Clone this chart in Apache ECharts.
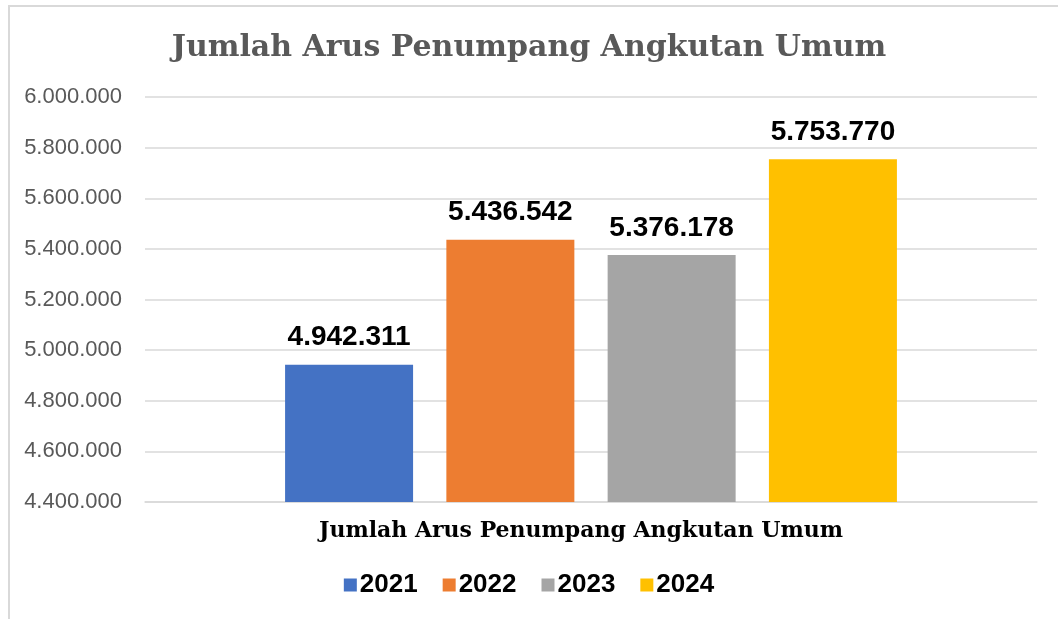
<!DOCTYPE html>
<html>
<head>
<meta charset="utf-8">
<script src="https://cdn.jsdelivr.net/npm/echarts@6/dist/echarts.min.js"></script>
<style>
  html, body { margin: 0; padding: 0; background: #fff; overflow: hidden; }
  #frame { position: absolute; left: 8px; top: 5px; width: 1200px; height: 800px; border: 2px solid #d9d9d9; box-sizing: border-box; }
  #chart { position: absolute; left: 0; top: 0; width: 1058px; height: 619px; }
</style>
</head>
<body>
<div id="frame"></div>
<div id="chart"></div>
<script>
var categories = ['Jumlah Arus Penumpang Angkutan Umum'];
var years = ['2021', '2022', '2023', '2024'];
var values = [4942311, 5436542, 5376178, 5753770];
var colors = ['#4472C4', '#ED7D31', '#A5A5A5', '#FFC000'];

function dots(v){
    return String(Math.round(v)).replace(/\B(?=(\d{3})+(?!\d))/g, '.');
}

var chart = echarts.init(document.getElementById('chart'));

var series = [];
for(var i=0; i<years.length; i++){
    series.push({
        name: years[i],
        type: 'bar',
        barWidth: 128,
        barGap: '26%',
        itemStyle: { color: colors[i] },
        label: {
            show: true,
            position: 'top',
            distance: 13,
            fontFamily: 'Liberation Sans, Arial, sans-serif',
            fontWeight: 'bold',
            fontSize: 28,
            color: '#000',
            formatter: function(p){ return dots(p.value); }
        },
        data: [values[i]]
    });
}

var option = {
    animation: false,
    title: {
        text: 'Jumlah Arus Penumpang Angkutan Umum',
        left: 'center',
        top: 28,
        textStyle: {
            fontFamily: 'DejaVu Serif, serif',
            fontWeight: 'bold',
            fontSize: 30,
            color: '#595959'
        }
    },
    legend: {
        data: years,
        left: 'center',
        top: 567,
        icon: 'rect',
        itemWidth: 13,
        itemHeight: 13,
        itemGap: 25,
        textStyle: {
            fontFamily: 'Liberation Sans, Arial, sans-serif',
            fontWeight: 'bold',
            fontSize: 26,
            color: '#000',
            padding: [0, 0, 0, -2]
        }
    },
    grid: {
        left: 145,
        right: 21,
        top: 97,
        bottom: 117
    },
    xAxis: {
        type: 'category',
        data: categories,
        axisLine: { lineStyle: { color: '#d9d9d9', width: 1.5 } },
        axisTick: { show: false },
        axisLabel: {
            margin: 18,
            padding: [0, 20, 0, 0],
            fontFamily: 'DejaVu Serif, serif',
            fontWeight: 'bold',
            fontSize: 22,
            color: '#000'
        }
    },
    yAxis: {
        type: 'value',
        min: 4400000,
        max: 6000000,
        interval: 200000,
        axisLine: { show: false },
        axisTick: { show: false },
        splitLine: { lineStyle: { color: '#d9d9d9', width: 1.5 } },
        axisLabel: {
            margin: 23,
            fontFamily: 'Liberation Sans, Arial, sans-serif',
            fontSize: 22,
            color: '#595959',
            formatter: function(v){ return dots(v); }
        }
    },
    series: series
};

chart.setOption(option);
</script>
</body>
</html>
